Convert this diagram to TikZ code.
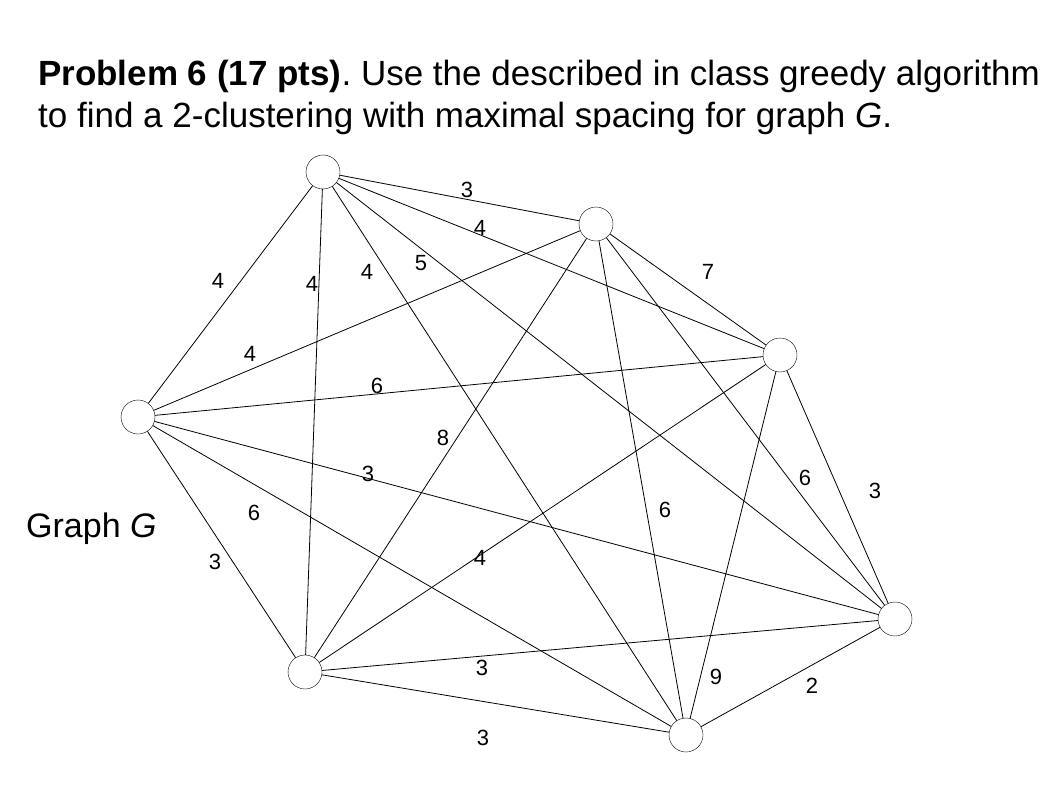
\documentclass[tikz,border=0pt]{standalone}
\usepackage{fontspec}
\setmainfont{Liberation Sans}
\frenchspacing
\begin{document}
\begin{tikzpicture}[x=1pt,y=-1pt,
  vtx/.style={circle,draw,fill=white,minimum size=34pt,inner sep=0pt},
  wt/.style={font=\fontsize{22}{22}\selectfont,inner sep=0pt},
  edge/.style={draw,line width=0.8pt}]
\useasboundingbox (0,0) rectangle (1042,792);
\clip (0,0) rectangle (1042,792);
\node[anchor=base west,inner sep=0pt,font=\fontsize{35}{35}\selectfont] (t1) at (38,85) {\textbf{Problem 6 (17 pts)}. Use the described in class greedy algorithm};
\node[anchor=base west,inner sep=0pt,font=\fontsize{35}{35}\selectfont] (t2) at (38,127) {to find a 2-clustering with maximal spacing for graph \textit{G}.};
\node[anchor=base west,inner sep=0pt,font=\fontsize{34}{34}\selectfont] (gl) at (26,537) {Graph \textit{G}};
\coordinate (a) at (323,172);
\coordinate (b) at (596,224);
\coordinate (c) at (780,355);
\coordinate (d) at (138,417);
\coordinate (e) at (895,619);
\coordinate (f) at (305,672);
\coordinate (g) at (686,735);
\foreach \u/\v in {a/b,a/c,a/d,a/e,a/f,a/g,b/c,b/d,b/e,b/f,b/g,c/d,c/e,c/f,c/g,d/e,d/f,d/g,e/f,e/g,f/g}
  \draw[edge] (\u) -- (\v);
\foreach \n in {a,b,c,d,e,f,g} \node[vtx] (N\n) at (\n) {};
\node[wt] (w1) at (467,190) {3};
\node[wt] (w2) at (480,228) {4};
\node[wt] (w3) at (708,272) {7};
\node[wt] (w4) at (218,281) {4};
\node[wt] (w5) at (312,284) {4};
\node[wt] (w6) at (367,272) {4};
\node[wt] (w7) at (421,263) {5};
\node[wt] (w8) at (250,354) {4};
\node[wt] (w9) at (377,386) {6};
\node[wt] (w10) at (443,438) {8};
\node[wt] (w11) at (368,474) {3};
\node[wt] (w12) at (254,513) {6};
\node[wt] (w13) at (665,510) {6};
\node[wt] (w14) at (480,558) {4};
\node[wt] (w15) at (805,478) {6};
\node[wt] (w16) at (875,491) {3};
\node[wt] (w17) at (716,677) {9};
\node[wt] (w18) at (482,668) {3};
\node[wt] (w19) at (483,738) {3};
\node[wt] (w20) at (812,686) {2};
\node[wt] (w21) at (215,562) {3};
\end{tikzpicture}
\end{document}
